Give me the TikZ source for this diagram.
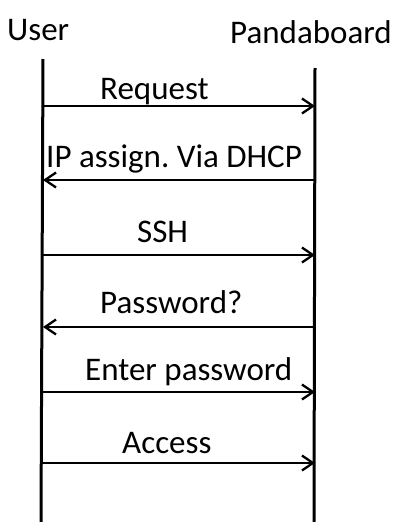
\documentclass[tikz,border=0pt]{standalone}
\usepackage{fontspec}
\setmainfont{Carlito}
\usetikzlibrary{arrows.meta}
\frenchspacing
\begin{document}
\begin{tikzpicture}[x=1pt,y=-1pt,
  lbl/.style={anchor=base west,inner sep=0pt,font=\fontsize{33}{36}\selectfont},
  life/.style={line width=3pt},
  msg/.style={line width=2.3pt,-{Straight Barb[length=11pt,width=15pt,line width=2.3pt]}}]
\useasboundingbox (0,0) rectangle (396,522);
\node[lbl] (user) at (7,40) {User};
\node[lbl] (pb) at (230,43) {Pandaboard};
\coordinate (ut) at (43,59);
\coordinate (ub) at (41,522);
\coordinate (pt) at (315,68);
\coordinate (pbb) at (314,522);
\draw[life] (ut) -- (ub);
\draw[life] (pt) -- (pbb);
% message end points
\foreach \n/\y in {a/106,b/180,c/255,d/327,e/392,f/463}{
  \coordinate (L\n) at (43,\y);
  \coordinate (R\n) at (315,\y);
}
\draw[msg] (La) -- (Ra);
\draw[msg] (Rb) -- (Lb);
\draw[msg] (Lc) -- (Rc);
\draw[msg] (Rd) -- (Ld);
\draw[msg] (Le) -- (Re);
\draw[msg] (Lf) -- (Rf);
\node[lbl] (ta) at (100,99) {Request};
\node[lbl] (tb) at (46,167) {IP assign.\ Via DHCP};
\node[lbl] (tc) at (137,242) {SSH};
\node[lbl] (td) at (100,313) {Password?};
\node[lbl] (te) at (85,380) {Enter password};
\node[lbl] (tf) at (122,453) {Access};
\end{tikzpicture}
\end{document}
